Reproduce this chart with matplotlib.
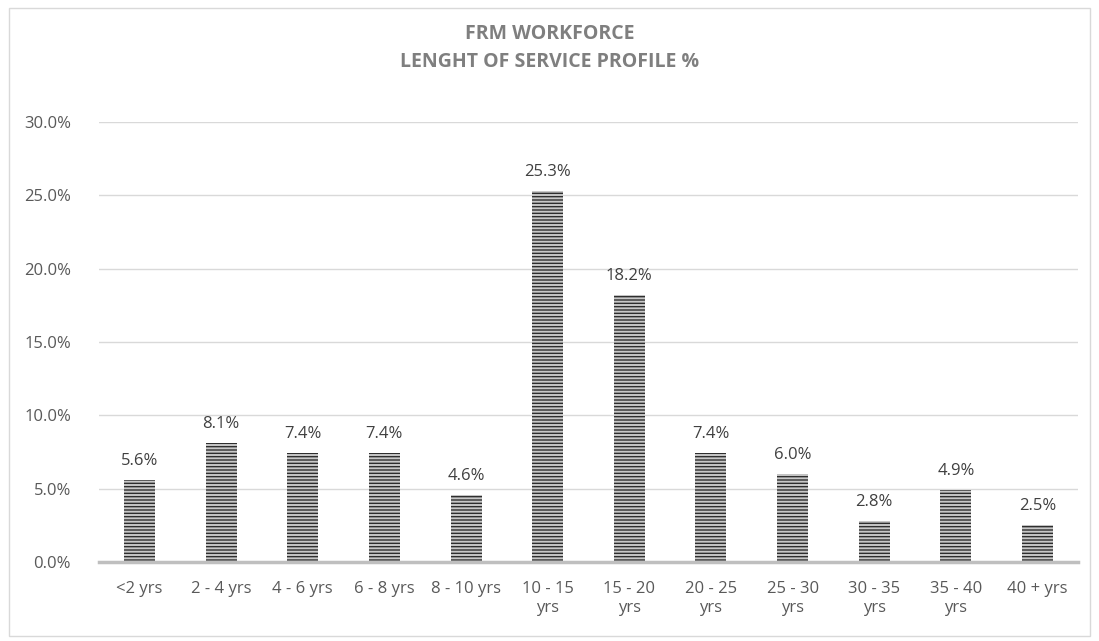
import matplotlib.pyplot as plt
import matplotlib as mpl
import numpy as np

categories = ["<2 yrs", "2 - 4 yrs", "4 - 6 yrs", "6 - 8 yrs", "8 - 10 yrs",
              "10 - 15\nyrs", "15 - 20\nyrs", "20 - 25\nyrs", "25 - 30\nyrs",
              "30 - 35\nyrs", "35 - 40\nyrs", "40 + yrs"]
values = [5.6, 8.1, 7.4, 7.4, 4.6, 25.3, 18.2, 7.4, 6.0, 2.8, 4.9, 2.5]
yticks = [0, 5, 10, 15, 20, 25, 30]

plt.rcParams["font.family"] = ["Open Sans", "DejaVu Sans"]
mpl.rcParams["hatch.linewidth"] = 1.4

fig = plt.figure(figsize=(10.99, 6.41), dpi=100)
ax = fig.add_axes([0.0898, 0.1232, 0.8914, 0.6866])

# rahmen um das diagramm
fig.patches.append(plt.Rectangle((0.008, 0.008), 0.984, 0.98, transform=fig.transFigure,
                                 fill=False, edgecolor="#d9d9d9", linewidth=1.0))

x = np.arange(len(categories))
ax.bar(x, values, width=0.38, color="#2e2e2e", edgecolor="#c8c8c8", linewidth=0,
       hatch="-----", zorder=3)

for xi, v in zip(x, values):
    ax.text(xi, v + 0.75, f"{v:.1f}%", ha="center", va="bottom", fontsize=12, color="#404040")

ax.set_ylim(0, 30)
ax.set_xlim(-0.5, len(categories) - 0.5)
ax.set_yticks(yticks)
ax.set_yticklabels([f"{t:.1f}%" for t in yticks], fontsize=12, color="#595959")
ax.set_xticks(x)
ax.set_xticklabels(categories, fontsize=12, color="#595959", va="top", linespacing=1.2)
ax.tick_params(axis="y", length=0, pad=20)
ax.tick_params(axis="x", length=0, pad=14)
ax.grid(axis="y", color="#d9d9d9", linewidth=1.0, zorder=0)
for side in ["top", "right", "left"]:
    ax.spines[side].set_visible(False)
ax.spines["bottom"].set_color("#bfbfbf")
ax.spines["bottom"].set_linewidth(2.5)
ax.spines["bottom"].set_zorder(4)

fig.text(0.5, 0.947, "FRM WORKFORCE", ha="center", va="center", fontsize=14,
         fontweight="bold", color="#7f7f7f")
fig.text(0.5, 0.903, "LENGHT OF SERVICE PROFILE %", ha="center", va="center", fontsize=14,
         fontweight="bold", color="#7f7f7f")

fig.savefig("out.png", dpi=100)
